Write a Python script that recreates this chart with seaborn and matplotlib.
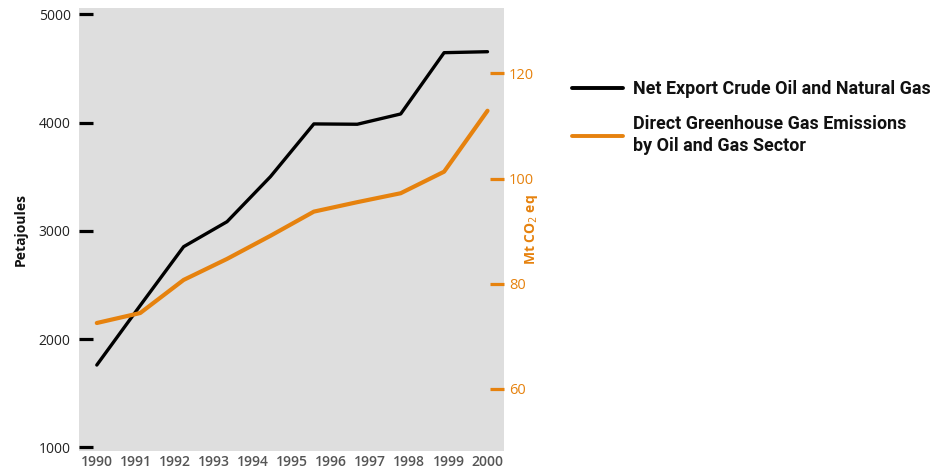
import numpy as np
import pandas as pd
import matplotlib
matplotlib.use("Agg")
import matplotlib.pyplot as plt
import seaborn as sns
from matplotlib.lines import Line2D

# Data
year_labels = ['1990', '1991', '1992', '1993', '1994', '1995', '1996', '1997', '1998', '1999', '2000']
point_index = [0, 1, 2, 3, 4, 5, 6, 7, 8, 9]
net_export_pj = [1760, 2310, 2853, 3084, 3500, 3987, 3984, 4079, 4645, 4654]
ghg_mt = [72.5, 74.4, 80.7, 84.7, 89.1, 93.7, 95.5, 97.2, 101.3, 112.9]
left_ticks = [1000, 2000, 3000, 4000, 5000]
right_ticks = [60, 80, 100, 120]

black = '#000000'
orange = '#E6820E'

sns.set_style("white")
plt.rcParams['font.family'] = ['Open Sans', 'DejaVu Sans']

df = pd.DataFrame({'idx': point_index, 'export': net_export_pj, 'ghg': ghg_mt})

fig = plt.figure(figsize=(9.36, 4.74), dpi=100)
ax = fig.add_axes([0.0844, 0.0492, 0.4536, 0.9333])
ax.set_facecolor('#DEDEDE')
ax2 = ax.twinx()

sns.lineplot(data=df, x='idx', y='export', ax=ax, color=black, lw=2.4, legend=False)
sns.lineplot(data=df, x='idx', y='ghg', ax=ax2, color=orange, lw=3, legend=False)

ax.set_xlim(-0.41, 9.37)
ax.set_ylim(969, 5055)
ax2.set_ylim(48.2, 132.4)

ax.set_xticks(np.linspace(0, 9, len(year_labels)))
ax.set_xticklabels(year_labels)
ax.set_yticks(left_ticks)
ax2.set_yticks(right_ticks)

for a in (ax, ax2):
    for s in a.spines.values():
        s.set_visible(False)

ax.tick_params(axis='x', length=0, pad=3, labelsize=10, labelcolor='#555555')
for lbl in ax.get_xticklabels():
    lbl.set_fontweight('semibold')
ax.tick_params(axis='y', direction='in', length=10, width=2.3, color=black,
               pad=6, labelsize=10, labelcolor='#222222')
ax2.tick_params(axis='y', direction='in', length=10, width=2.3, color=orange,
                pad=4, labelsize=10.5, labelcolor=orange)

ax.set_xlabel('')
ax.set_ylabel('Petajoules', fontsize=10, fontweight='bold', color='#111111', labelpad=8)
ax2.set_ylabel('Mt CO$_2$ eq', fontsize=10, fontweight='bold', color=orange, labelpad=-8)

handles = [Line2D([], [], color=black, lw=2.8), Line2D([], [], color=orange, lw=2.8)]
labels = ['Net Export Crude Oil and Natural Gas',
          'Direct Greenhouse Gas Emissions\nby Oil and Gas Sector']
leg = fig.legend(handles, labels, loc='upper left', bbox_to_anchor=(0.594, 0.865),
                 frameon=False, prop={'family': ['Roboto', 'DejaVu Sans'],
                                      'weight': 'bold', 'size': 12.9},
                 handlelength=2.85, handletextpad=0.55, labelspacing=0.95)
for t in leg.get_texts():
    t.set_color('#111111')
    t.set_linespacing(1.3)

fig.savefig('out.png', dpi=100)
